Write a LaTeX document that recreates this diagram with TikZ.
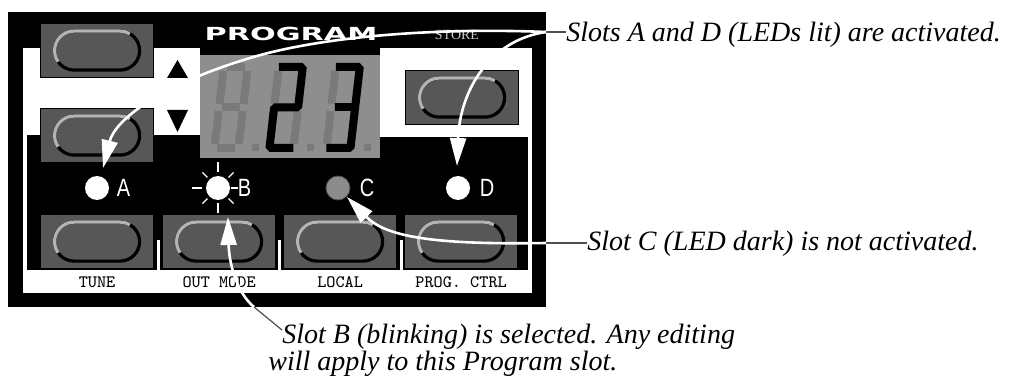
\documentclass[tikz,border=0pt]{standalone}
\usepackage{fontspec}
\setmainfont{Liberation Serif}
\newfontfamily\panelsans{DejaVu Sans}
\newfontfamily\ledsans{Liberation Sans}
\usetikzlibrary{positioning, arrows.meta, calc}

\definecolor{panelgray}{HTML}{575757}
\definecolor{rimlight}{HTML}{B4B4B4}
\definecolor{lcdgray}{HTML}{8E8E8E}
\definecolor{segdim}{HTML}{7A7A7A}
\definecolor{ledoff}{HTML}{8C8C8C}
\definecolor{leadgray}{HTML}{4D4D4D}

% button: name, left x, top y
\newcommand{\panelbutton}[3]{%
  \node[btnbox, anchor=north west] (#1) at (#2,#3) {};
  \draw[btnrim] ($(#1.center)+(-42.5,-19.5)$) rectangle ($(#1.center)+(42.5,19.5)$);
  \draw[btnshine] ($(#1.center)+(-23,0)+(215:9.75pt)$)
    arc[start angle=215, end angle=90, radius=9.75pt] -- ++(46,0)
    arc[start angle=90, end angle=60, radius=9.75pt];
}

% seven segment digit: left x, lit part
\newcommand{\lcddigit}[2]{%
  \begin{scope}[shift={(#1,152)}, xslant=0.115]
    \foreach \a/\b/\c/\d in {7/-85/25/-85, 28/-81/28/-48, 28/-41/28/-8,
        7/-4/25/-4, 4/-41/4/-8, 4/-81/4/-48, 7/-44.5/25/-44.5}
      \draw[segoff] (\a,\b) -- (\c,\d);
    #2
  \end{scope}
}

\begin{document}
\begin{tikzpicture}[x=0.5pt, y=-0.5pt,
    btnbox/.style={draw=black, line width=0.6pt, fill=panelgray, minimum width=56.5pt, minimum height=27pt, inner sep=0pt},
    btnrim/.style={draw=black, line width=1.6pt, rounded corners=9.75pt},
    btnshine/.style={draw=rimlight, line width=1.6pt},
    segoff/.style={draw=segdim, line width=4pt},
    segon/.style={draw=black, line width=4pt, line join=bevel},
    ledlit/.style={circle, fill=white, minimum size=12pt, inner sep=0pt},
    leddark/.style={circle, fill=ledoff, draw=leadgray, line width=0.4pt, minimum size=12pt, inner sep=0pt},
    ledtag/.style={text=white, font=\ledsans\fontsize{12.5}{12.5}\selectfont, inner sep=0pt},
    ray/.style={draw=white, line width=0.6pt},
    btnlabel/.style={font=\ttfamily\fontsize{8.7}{8.7}\selectfont, inner sep=0pt},
    callout/.style={draw=white, line width=1.3pt, -{Triangle[width=8pt,length=14pt]}},
    leader/.style={draw=leadgray, line width=0.6pt},
    capnote/.style={font=\itshape\fontsize{14}{13.5}\selectfont, inner sep=0pt, anchor=base west, align=left},
  ]
  \useasboundingbox (0,0) rectangle (1011,379);

  % panel and white frame
  \fill[black] (8,12) rectangle (546,307);
  \fill[white] (23,48) rectangle (200,135);
  \fill[white] (380,48) rectangle (532,137);
  \fill[white] (23,48) rectangle (27,293);
  \fill[white] (528,48) rectangle (532,293);
  \fill[white] (23,270) rectangle (532,293);
  \foreach \sx in {157,278,400}
    \fill[white] (\sx,240) rectangle (\sx+3,270);

  % display
  \fill[lcdgray] (200,55) rectangle (380,158);
  \lcddigit{210}{}
  \lcddigit{265}{\draw[segon] (4,-85) -- (28,-85) -- (28,-44.5) -- (4,-44.5) -- (4,-4) -- (28,-4);}
  \lcddigit{322}{\draw[segon] (4,-85) -- (28,-85) -- (28,-4) -- (4,-4);
                 \draw[segon] (8,-44.5) -- (28,-44.5);}
  \foreach \dx in {252,307,364}
    \fill[segdim] (\dx,144) rectangle (\dx+7,151);

  % up / down
  \fill[black] (167,78) -- (188,78) -- (177.5,60) -- cycle;
  \fill[black] (167,110) -- (188,110) -- (177.5,132) -- cycle;

  \node[text=white, font=\panelsans\bfseries\fontsize{9}{9}\selectfont] (progTitle) at (291,34)
    {\scalebox{1.68}[1]{PROGRAM}};
  \node[text=white!80!black, font=\fontsize{7}{7}\selectfont, inner sep=0pt] (storeTitle) at (457,35) {STORE};

  % buttons
  \panelbutton{btnUp}{40}{23}
  \panelbutton{btnDown}{40}{108}
  \panelbutton{btnStore}{405}{70}
  \panelbutton{btnTune}{40}{214}
  \panelbutton{btnOutMode}{162}{214}
  \panelbutton{btnLocal}{283}{214}
  \panelbutton{btnProgCtrl}{404}{214}

  \node[btnlabel, below=3.5pt of btnTune] (lblTune) {TUNE};
  \node[btnlabel, below=3.5pt of btnOutMode] (lblOutMode) {OUT MODE};
  \node[btnlabel, below=3.5pt of btnLocal] (lblLocal) {LOCAL};
  \node[btnlabel, below=3.5pt of btnProgCtrl] (lblProgCtrl) {PROG. CTRL};

  % LEDs
  \node[ledlit] (ledA) at (97,188) {};
  \node[ledlit] (ledB) at (218,188) {};
  \node[leddark] (ledC) at (338,188) {};
  \node[ledlit] (ledD) at (458,188) {};
  \node[ledtag, right=3.5pt of ledA] (tagA) {\scalebox{0.8}[1]{A}};
  \node[ledtag, right=3.5pt of ledB] (tagB) {\scalebox{0.8}[1]{B}};
  \node[ledtag, right=4.5pt of ledC] (tagC) {\scalebox{0.8}[1]{C}};
  \node[ledtag, right=4.5pt of ledD] (tagD) {\scalebox{0.8}[1]{D}};
  \foreach \ang/\ri/\ro in {0/6.5/10, 90/8/13, 180/8/13, 270/7.5/12.5,
      45/7.5/11, 135/7.5/11, 225/7.5/11, 315/7.5/11}
    \draw[ray] ([shift={(\ang:\ri pt)}]ledB.center) -- ([shift={(\ang:\ro pt)}]ledB.center);

  % captions
  \node[capnote] (capAD) at (566,42) {Slots A and D (LEDs lit) are activated.};
  \node[capnote] (capC) at (587,250) {Slot C (LED dark) is not activated.};
  \node[capnote] (capB) at (268,370)
    {\hspace*{7pt}Slot B (blinking) is selected. Any editing\\will apply to this Program slot.};

  \coordinate (jAD) at (546,32);
  \coordinate (jC) at (546,243);
  \coordinate (jB) at (254,307);
  \coordinate (jBtext) at (282,330);
  \coordinate (bendA) at (250,58);
  \coordinate (tipA) at ($(ledA)+(6,-20)$);
  \coordinate (tipB) at ($(ledB)+(10,29)$);
  \coordinate (tipC) at ($(ledC)+(9,9)$);
  \coordinate (tipD) at ($(ledD)+(-1,-22)$);

  \draw[leader] (jAD) -- (jAD -| capAD.west);
  \draw[leader] (jC) -- (jC -| capC.west);
  \draw[leader] (jB) -- (jBtext);

  \draw[callout] (jAD) .. controls (490,40) and (460,90) .. (tipD);
  \draw[callout] (jAD) .. controls (450,28) and (330,34) .. (bendA)
    .. controls (160,85) and (115,120) .. (tipA);
  \draw[callout] (jC) .. controls (430,245) and (385,236) .. (tipC);
  \draw[callout] (jB) .. controls (236,292) and (229,262) .. (tipB);
\end{tikzpicture}
\end{document}
